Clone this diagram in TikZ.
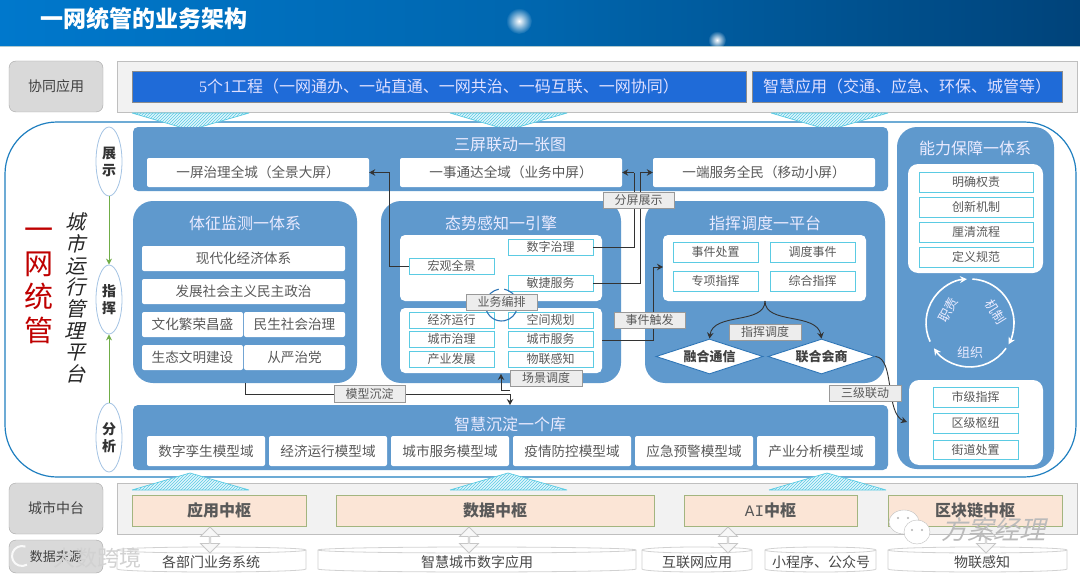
\documentclass[tikz,border=0pt]{standalone}
\usepackage{fontspec}
\usetikzlibrary{arrows.meta,shapes.geometric,shapes.arrows,patterns,fadings,calc}
\setmainfont{Noto Sans CJK SC}
\newfontfamily\cjkit[FakeSlant=0.25]{Noto Sans CJK SC}
\newfontfamily\serifnum{Liberation Serif}
\newfontfamily\mononum{Liberation Mono}
\definecolor{pblue}{HTML}{5F99CD}
\definecolor{txt}{HTML}{595959}
\definecolor{cyanb}{HTML}{5BCBE3}
\definecolor{tagfill}{HTML}{EDEDED}
\definecolor{blue1}{HTML}{1F6BD8}
\definecolor{headl}{HTML}{0078CC}
\definecolor{headm}{HTML}{0066AE}
\definecolor{headr}{HTML}{00437A}
\definecolor{framec}{HTML}{1F7FC0}
\definecolor{ringc}{HTML}{2E75B6}
\definecolor{stagec}{HTML}{A5C4E4}
\definecolor{hubfill}{HTML}{FBE5D6}
\definecolor{hubline}{HTML}{A3B57F}
\definecolor{greenc}{HTML}{70AD47}
\tikzfading[name=glowfade,inner color=transparent!0,outer color=transparent!100]
\newcommand\fs[1]{\fontsize{#1}{#1}\selectfont}
\newcommand\bx[7]{%
  \pgfmathsetmacro\cxv{(#3+#5)/2}\pgfmathsetmacro\cyv{(#4+#6)/2}%
  \pgfmathsetmacro\wv{#5-#3}\pgfmathsetmacro\hv{#6-#4}%
  \node[#2,minimum width=\wv pt,minimum height=\hv pt,inner sep=0pt] (#1) at (\cxv,\cyv) {#7};}
\newcommand\trid[3]{% left x, base y, apex y
  \path[fill=cyan!12,postaction={pattern=north east lines,pattern color=cyanb}] (#1,#2) -- ++(117,0) -- (#1+58,#3) -- cycle;
  \draw[cyanb,line width=.7pt] (#1,#2) -- ++(117,0) (#1,#2) -- (#1+58,#3) -- (#1+117,#2);}
\newcommand\cyl[3]{% name, x1, x2; text via node after
  \pgfmathsetmacro\rxv{(#3-#2)/2}%
  \draw[draw=black!18,fill=white,line width=.8pt] (#2,550) -- (#2,569) arc[x radius=\rxv pt,y radius=3pt,start angle=180,end angle=360] -- (#3,550) arc[x radius=\rxv pt,y radius=3pt,start angle=0,end angle=180] -- cycle;
  \draw[draw=black!18,line width=.8pt] (#2,550) arc[x radius=\rxv pt,y radius=3pt,start angle=180,end angle=360];}
\tikzset{
  x=1pt,y=-1pt,
  graybox/.style={draw=black!35,fill=black!15,rounded corners=7pt,text=black!75,font=\fs{14}},
  lightpanel/.style={draw=black!25,fill=black!5,line width=.9pt},
  bar/.style={draw=black!45,fill=blue1,text=white!88!blue,line width=.6pt,font=\fs{16}},
  bluepanel/.style={fill=pblue,rounded corners=#1,text=white},
  bluepanel/.default=5pt,
  innerwhite/.style={fill=white,rounded corners=#1},
  innerwhite/.default=5pt,
  whitebox/.style={fill=white,rounded corners=2pt,text=txt,font=\fs{13.6}},
  cyanbox/.style={draw=cyanb,fill=white,line width=.9pt,text=txt,font=\fs{12}},
  tag/.style={draw=black!40,fill=tagfill,line width=.8pt,text=txt,font=\fs{12}},
  ptitle/.style={text=white!92!blue,font=\fs{16},inner sep=0pt},
  orangebox/.style={draw=hubline,fill=hubfill,line width=.9pt,text=txt,font=\bfseries\fs{16}},
  stage/.style={ellipse,draw=stagec,fill=white,minimum width=26pt,minimum height=69pt,inner sep=0pt,align=center,line width=.8pt,font=\bfseries\fontsize{14}{17}\selectfont,text=black!80},
  greenarr/.style={draw=greenc,line width=1pt,-{Stealth[length=6pt,width=6pt]}},
  conn/.style={draw=black!80,line width=.9pt},
  arr/.style={conn,-{Stealth[length=6pt,width=6.5pt]}},
  dia/.style={diamond,aspect=3,draw=ringc,fill=white,minimum width=107pt,minimum height=35pt,inner sep=0pt,line width=.9pt,text=black!75,font=\bfseries\fs{13}},
  dbl/.style={double arrow,rotate=90,draw=black!22,fill=black!3,minimum width=19pt,minimum height=26pt,inner sep=0pt,double arrow head extend=4.5pt,double arrow head indent=0pt,line width=.8pt},
  cyltext/.style={text=black!72,font=\fs{14},inner sep=0pt},
  ringarr/.style={draw=white,line width=1.6pt,-{Stealth[length=7pt,width=7pt]}},
  ringtext/.style={text=white!92!blue,font=\fs{13},inner sep=0pt},
}
\begin{document}
\begin{tikzpicture}
\useasboundingbox (0,0) rectangle (1080,578);
\fill[white] (0,0) rectangle (1080,578);
% header
\shade[left color=headl,right color=headr,middle color=headm] (0,0) rectangle (1080,46);
\draw[blue!20!cyan!25!gray!50,line width=.8pt] (0,46.5) -- (1080,46.5);
\fill[white,path fading=glowfade] (519,21) circle (13pt);
\fill[white,path fading=glowfade] (717,40) circle (9pt);
\node[text=white,font=\bfseries\fs{23},inner sep=0pt,anchor=west] (title) at (40,19) {一网统管的业务架构};
% row panels
\bx{lab1}{graybox}{9}{61}{103}{112}{协同应用}
\bx{top}{lightpanel}{117}{61}{1077}{112}{}
\bx{bar1}{bar}{132}{71}{746}{102}{\serifnum 5\rmfamily 个\serifnum 1\rmfamily 工程（一网通办、一站直通、一网共治、一码互联、一网协同）}
\bx{bar2}{bar}{752}{71}{1062}{102}{智慧应用（交通、应急、环保、城管等）}
\bx{lab2}{graybox}{9}{483}{103}{534}{城市中台}
\bx{mid}{lightpanel}{117}{483}{1077}{534}{}
% frame
\bx{frame}{draw=framec,fill=white,line width=1.2pt,rounded corners=52pt}{5}{122}{1076}{477}{}
% triangles
\trid{132}{113}{130}\trid{450}{113}{130}\trid{771}{113}{130}
\trid{132}{490}{473}\trid{450}{490}{473}\trid{769}{490}{473}
% left labels
\node[text=red!75!black,inner sep=0pt,align=center,font=\fontsize{29}{33.5}\selectfont] (ywtg) at (39,286) {一\\网\\统\\管};
\node[text=black!85,inner sep=0pt,align=center,font=\cjkit\fontsize{20}{21.7}\selectfont] (csyx) at (75,298) {城\\市\\运\\行\\管\\理\\平\\台};
\node[stage] (s1) at (109,161.5) {展\\示};
\node[stage] (s2) at (109,299.5) {指\\挥};
\node[stage] (s3) at (109,437.5) {分\\析};
\draw[greenarr] (s1.south) -- (s2.north);
\draw[greenarr] (s3.north) -- (s2.south);
% top panel
\bx{p1}{bluepanel}{133}{127}{888}{191}{}
\node[ptitle] (p1t) at (510,145) {三屏联动一张图};
\bx{a1}{whitebox}{147}{158}{369}{187}{一屏治理全城（全景大屏）}
\bx{a2}{whitebox}{400}{158}{622}{187}{一事通达全域（业务中屏）}
\bx{a3}{whitebox}{653}{158}{875}{187}{一端服务全民（移动小屏）}
% panel 2
\bx{p2}{bluepanel=20pt}{133}{201}{357}{383}{}
\node[ptitle] (p2t) at (245,223) {体征监测一体系};
\bx{b1}{whitebox}{142}{246}{345}{271}{现代化经济体系}
\bx{b2}{whitebox}{142}{279}{345}{304}{发展社会主义民主政治}
\bx{b3}{whitebox}{142}{312}{243}{337}{文化繁荣昌盛}
\bx{b4}{whitebox}{244}{312}{345}{337}{民生社会治理}
\bx{b5}{whitebox}{142}{345}{243}{370}{生态文明建设}
\bx{b6}{whitebox}{244}{345}{345}{370}{从严治党}
% panel 3
\bx{p3}{bluepanel=20pt}{381}{201}{621}{383}{}
\node[ptitle] (p3t) at (501,223) {态势感知一引擎};
\bx{w31}{innerwhite}{400}{235}{602}{301}{}
\bx{w32}{innerwhite}{400}{308}{602}{373}{}
\bx{c1}{cyanbox}{508}{239}{593}{255}{数字治理}
\bx{c2}{cyanbox}{409}{258}{494}{274}{宏观全景}
\bx{c3}{cyanbox}{508}{275}{593}{291}{敏捷服务}
\bx{c4}{cyanbox}{409}{312}{494}{328}{经济运行}
\bx{c5}{cyanbox}{409}{331}{494}{347}{城市治理}
\bx{c6}{cyanbox}{409}{351}{494}{367}{产业发展}
\bx{c7}{cyanbox}{508}{312}{593}{328}{空间规划}
\bx{c8}{cyanbox}{508}{331}{593}{347}{城市服务}
\bx{c9}{cyanbox}{508}{351}{593}{367}{物联感知}
\draw[ringc,line width=1.1pt] (501.5,305) ++(15:16pt) arc[start angle=15,end angle=80,radius=16pt];
\draw[ringc,line width=1.1pt] (501.5,305) ++(100:16pt) arc[start angle=100,end angle=165,radius=16pt];
\draw[ringc,line width=1.1pt] (501.5,305) ++(190:16pt) arc[start angle=190,end angle=350,radius=16pt];
% panel 4
\bx{p4}{bluepanel=20pt}{645}{201}{885}{383}{}
\node[ptitle] (p4t) at (765,223) {指挥调度一平台};
\bx{w41}{innerwhite}{663}{235}{866}{301}{}
\bx{d1}{cyanbox}{673}{242}{758}{262}{事件处置}
\bx{d2}{cyanbox}{770}{242}{855}{262}{调度事件}
\bx{d3}{cyanbox}{673}{271}{758}{291}{专项指挥}
\bx{d4}{cyanbox}{770}{271}{855}{291}{综合指挥}
\node[dia] (m1) at (709.5,356.5) {融合通信};
\node[dia] (m2) at (821.5,356.5) {联合会商};
% panel 5
\bx{p5}{bluepanel}{133}{405}{888}{470}{}
\node[ptitle] (p5t) at (510,424) {智慧沉淀一个库};
\bx{e1}{whitebox}{147}{436}{265}{466}{数字孪生模型域}
\bx{e2}{whitebox}{269}{436}{387}{466}{经济运行模型域}
\bx{e3}{whitebox}{391}{436}{509}{466}{城市服务模型域}
\bx{e4}{whitebox}{513}{436}{631}{466}{疫情防控模型域}
\bx{e5}{whitebox}{635}{436}{753}{466}{应急预警模型域}
\bx{e6}{whitebox}{757}{436}{875}{466}{产业分析模型域}
% panel 6
\bx{p6}{bluepanel=20pt}{897}{127}{1054}{469}{}
\node[ptitle] (p6t) at (975,148) {能力保障一体系};
\bx{w61}{innerwhite=10pt}{908}{164}{1043}{273}{}
\bx{f1}{cyanbox}{919}{172}{1033}{192}{明确权责}
\bx{f2}{cyanbox}{919}{197}{1033}{217}{创新机制}
\bx{f3}{cyanbox}{919}{222}{1033}{242}{厘清流程}
\bx{f4}{cyanbox}{919}{247}{1033}{267}{定义规范}
\bx{w62}{innerwhite=10pt}{909}{380}{1043}{465}{}
\bx{g1}{cyanbox}{933}{387}{1018}{407}{市级指挥}
\bx{g2}{cyanbox}{933}{413}{1018}{433}{区级枢纽}
\bx{g3}{cyanbox}{933}{440}{1018}{459}{街道处置}
\draw[ringarr] (970,323) ++(205:44pt) arc[start angle=205,end angle=94,radius=44pt];
\draw[ringarr] (970,323) ++(87:44pt) arc[start angle=87,end angle=-29,radius=44pt];
\draw[ringarr] (970,323) ++(-35:44pt) arc[start angle=-35,end angle=-145,radius=44pt];
\node[ringtext,rotate=62] (r1) at (948,310) {职责};
\node[ringtext,rotate=-58] (r2) at (996,312) {机制};
\node[ringtext] (r3) at (970,353) {组织};
% coordinates and connectors
\coordinate (k1) at (389,172.5);
\coordinate (k2) at (634,172.5);
\coordinate (k3) at (640,172.5);
\coordinate (k4) at (653,340);
\coordinate (k5) at (653,267);
\coordinate (k6) at (510,394);
\coordinate (k7) at (510,390);
\coordinate (k8) at (501,390);
\coordinate (k9) at (501,374);
\coordinate (k10) at (510,405);
\coordinate (k11) at (602,340);
\coordinate (k12) at (663,267);
\coordinate (k13) at (765,301);
\coordinate (k14) at (907,422);
\draw[arr] (c2.west) -| (k1) -- (a1.east);
\draw[conn] (c1.east) -| (k2);
\draw[arr] (k2) -- (a2.east);
\draw[conn] (c3.east) -| (k3);
\draw[arr] (k3) -- (a3.west);
\draw[conn] (k11) -- (k4) -- (k5);
\draw[arr] (k5) -- (k12);
\draw[arr] (k13) .. controls (765,325) and (713,312) .. (m1.north);
\draw[arr] (k13) .. controls (765,325) and (817,312) .. (m2.north);
\draw[arr] (m2.east) .. controls (895,358) and (885,414) .. (k14);
\draw[conn] (p2.south) |- (k6);
\draw[arr] (k6) -- (k10);
\draw[conn] (k7) -- (k8);
\draw[arr] (k8) -- (k9);
% tags
\bx{t1}{tag}{603}{192}{674}{208}{分屏展示}
\bx{t2}{tag}{466}{294}{537}{310}{业务编排}
\bx{t3}{tag}{614}{312}{685}{328}{事件触发}
\bx{t4}{tag}{729}{324}{801}{340}{指挥调度}
\bx{t5}{tag}{510}{370}{582}{386}{场景调度}
\bx{t6}{tag}{334}{385}{405}{402}{模型沉淀}
\bx{t7}{tag}{829}{385}{901}{401}{三级联动}
% hubs
\bx{h1}{orangebox}{132}{495}{306}{526}{应用中枢}
\bx{h2}{orangebox}{336}{495}{654}{526}{数据中枢}
\bx{h3}{orangebox}{684}{495}{857}{526}{\mononum\mdseries AI\rmfamily\bfseries 中枢}
\bx{h4}{orangebox}{888}{495}{1062}{526}{区块链中枢}
% sources
\bx{lab3}{graybox,fill=black!15,font=\fs{13}}{9}{540}{103}{573}{数据来源}
\cyl{q1}{117}{306}\cyl{q2}{318}{636}\cyl{q3}{642}{752}\cyl{q4}{765}{876}\cyl{q5}{888}{1067}
\node[cyltext] (q1t) at (211,562) {各部门业务系统};
\node[cyltext] (q2t) at (477,562) {智慧城市数字应用};
\node[cyltext] (q3t) at (697,562) {互联网应用};
\node[cyltext] (q4t) at (821,562) {小程序、公众号};
\node[cyltext] (q5t) at (982,562) {物联感知};
\node[dbl] (u1) at (210,540) {};
\node[dbl] (u2) at (469,540) {};
\node[dbl] (u3) at (728,540) {};
\node[dbl] (u4) at (986,540) {};
% watermarks
\draw[white,line width=2pt,opacity=.85] (22,556) ++(70:10pt) arc[start angle=70,end angle=300,radius=10pt];
\node[text=black!18,font=\fs{22},inner sep=0pt] (wm1) at (97,558) {大数跨境};
\draw[black!25,fill=white] (904,522) ellipse (15pt and 12pt);
\draw[black!25,fill=white] (917,532) ellipse (13pt and 12pt);
\fill[black!30] (898,518) circle (1.2pt) (908,518) circle (1.2pt) (912,530) circle (1.2pt) (922,530) circle (1.2pt);
\node[text=black!27,font=\cjkit\fs{26},inner sep=0pt] (wm2) at (993,530) {方案经理};
\end{tikzpicture}
\end{document}
